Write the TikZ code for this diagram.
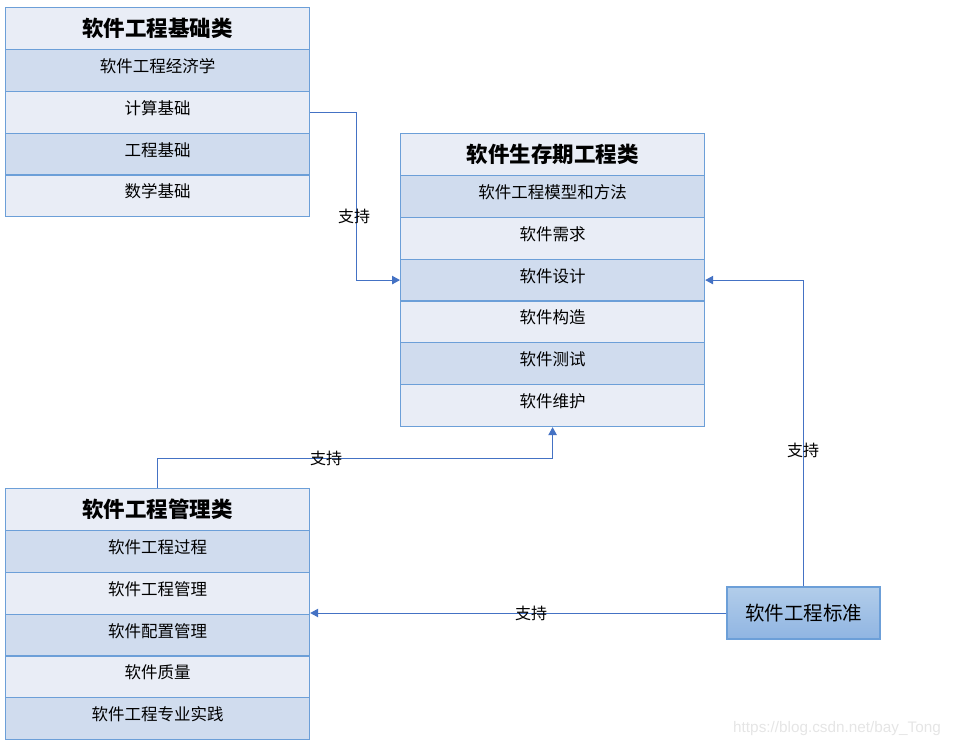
\documentclass[tikz,border=0pt]{standalone}
\usepackage{fontspec}
\setmainfont{Noto Sans CJK SC}
\newfontfamily\wmfont{Liberation Sans}
\usetikzlibrary{arrows.meta}
\definecolor{bord}{HTML}{6C9FD8}
\definecolor{lightrow}{HTML}{E9EDF6}
\definecolor{darkrow}{HTML}{D0DCEE}
\definecolor{conn}{HTML}{4472C4}
\definecolor{stdtop}{HTML}{B2CDEA}
\definecolor{stdbot}{HTML}{90B5E2}
\tikzset{
  cell/.style={draw=bord, line width=1.2pt, minimum width=304pt, minimum height=41.85pt,
    anchor=north west, inner sep=0pt},
  hdr/.style={cell, fill=lightrow, font=\bfseries\fontsize{21.5}{24}\selectfont},
  rowA/.style={cell, fill=darkrow, font=\fontsize{16.5}{20}\selectfont, text height=13pt, text depth=9pt},
  rowB/.style={cell, fill=lightrow, font=\fontsize{16.5}{20}\selectfont, text height=13pt, text depth=9pt},
  stdbox/.style={draw=bord, line width=1.2pt, minimum width=153pt, minimum height=52pt,
    inner sep=0pt, top color=stdtop, bottom color=stdbot, font=\fontsize{19.5}{22}\selectfont},
  link/.style={draw=conn, line width=1pt, -{Triangle[length=8pt,width=8.5pt]}},
  lbl/.style={font=\fontsize{16}{18}\selectfont, inner sep=0pt}
}
\begin{document}
\begin{tikzpicture}[x=1pt,y=-1pt]
\useasboundingbox (0,0) rectangle (954,747);
% Box 1
\node[hdr]  (a0) at (5,7) {软件工程基础类};
\node[rowA] (a1) at (5,48.85) {软件工程经济学};
\node[rowB] (a2) at (5,90.7) {计算基础};
\node[rowA] (a3) at (5,132.55) {工程基础};
\node[rowB] (a4) at (5,174.4) {数学基础};
% Box 2
\node[hdr]  (b0) at (400,133) {软件生存期工程类};
\node[rowA] (b1) at (400,174.85) {软件工程模型和方法};
\node[rowB] (b2) at (400,216.7) {软件需求};
\node[rowA] (b3) at (400,258.55) {软件设计};
\node[rowB] (b4) at (400,300.4) {软件构造};
\node[rowA] (b5) at (400,342.25) {软件测试};
\node[rowB] (b6) at (400,384.1) {软件维护};
% Box 3
\node[hdr]  (c0) at (5,488) {软件工程管理类};
\node[rowA] (c1) at (5,529.85) {软件工程过程};
\node[rowB] (c2) at (5,571.7) {软件工程管理};
\node[rowA] (c3) at (5,613.55) {软件配置管理};
\node[rowB] (c4) at (5,655.4) {软件质量};
\node[rowA] (c5) at (5,697.25) {软件工程专业实践};
% Standard
\node[stdbox] (std) at (803.5,613) {软件工程标准};
% Connectors
\draw[link] (a2.east) -- ++(46,0) |- (b3.west);
\draw[link] (c0.north) -- ++(0,-30) -| (b6.south);
\draw[link] (std.north) |- (b3.east);
\draw[link] (std.west) -- (std.west -| c0.east);
% Labels
\node[lbl] (l1) at (354,216) {支持};
\node[lbl] (l2) at (326,458) {支持};
\node[lbl] (l3) at (803,450) {支持};
\node[lbl] (l4) at (531,613) {支持};
% Watermark
\node[font=\wmfont\fontsize{15.3}{17}\selectfont, text=black!10, inner sep=0pt] (wm) at (837,729) {https://blog.csdn.net/bay\_Tong};
\end{tikzpicture}
\end{document}
